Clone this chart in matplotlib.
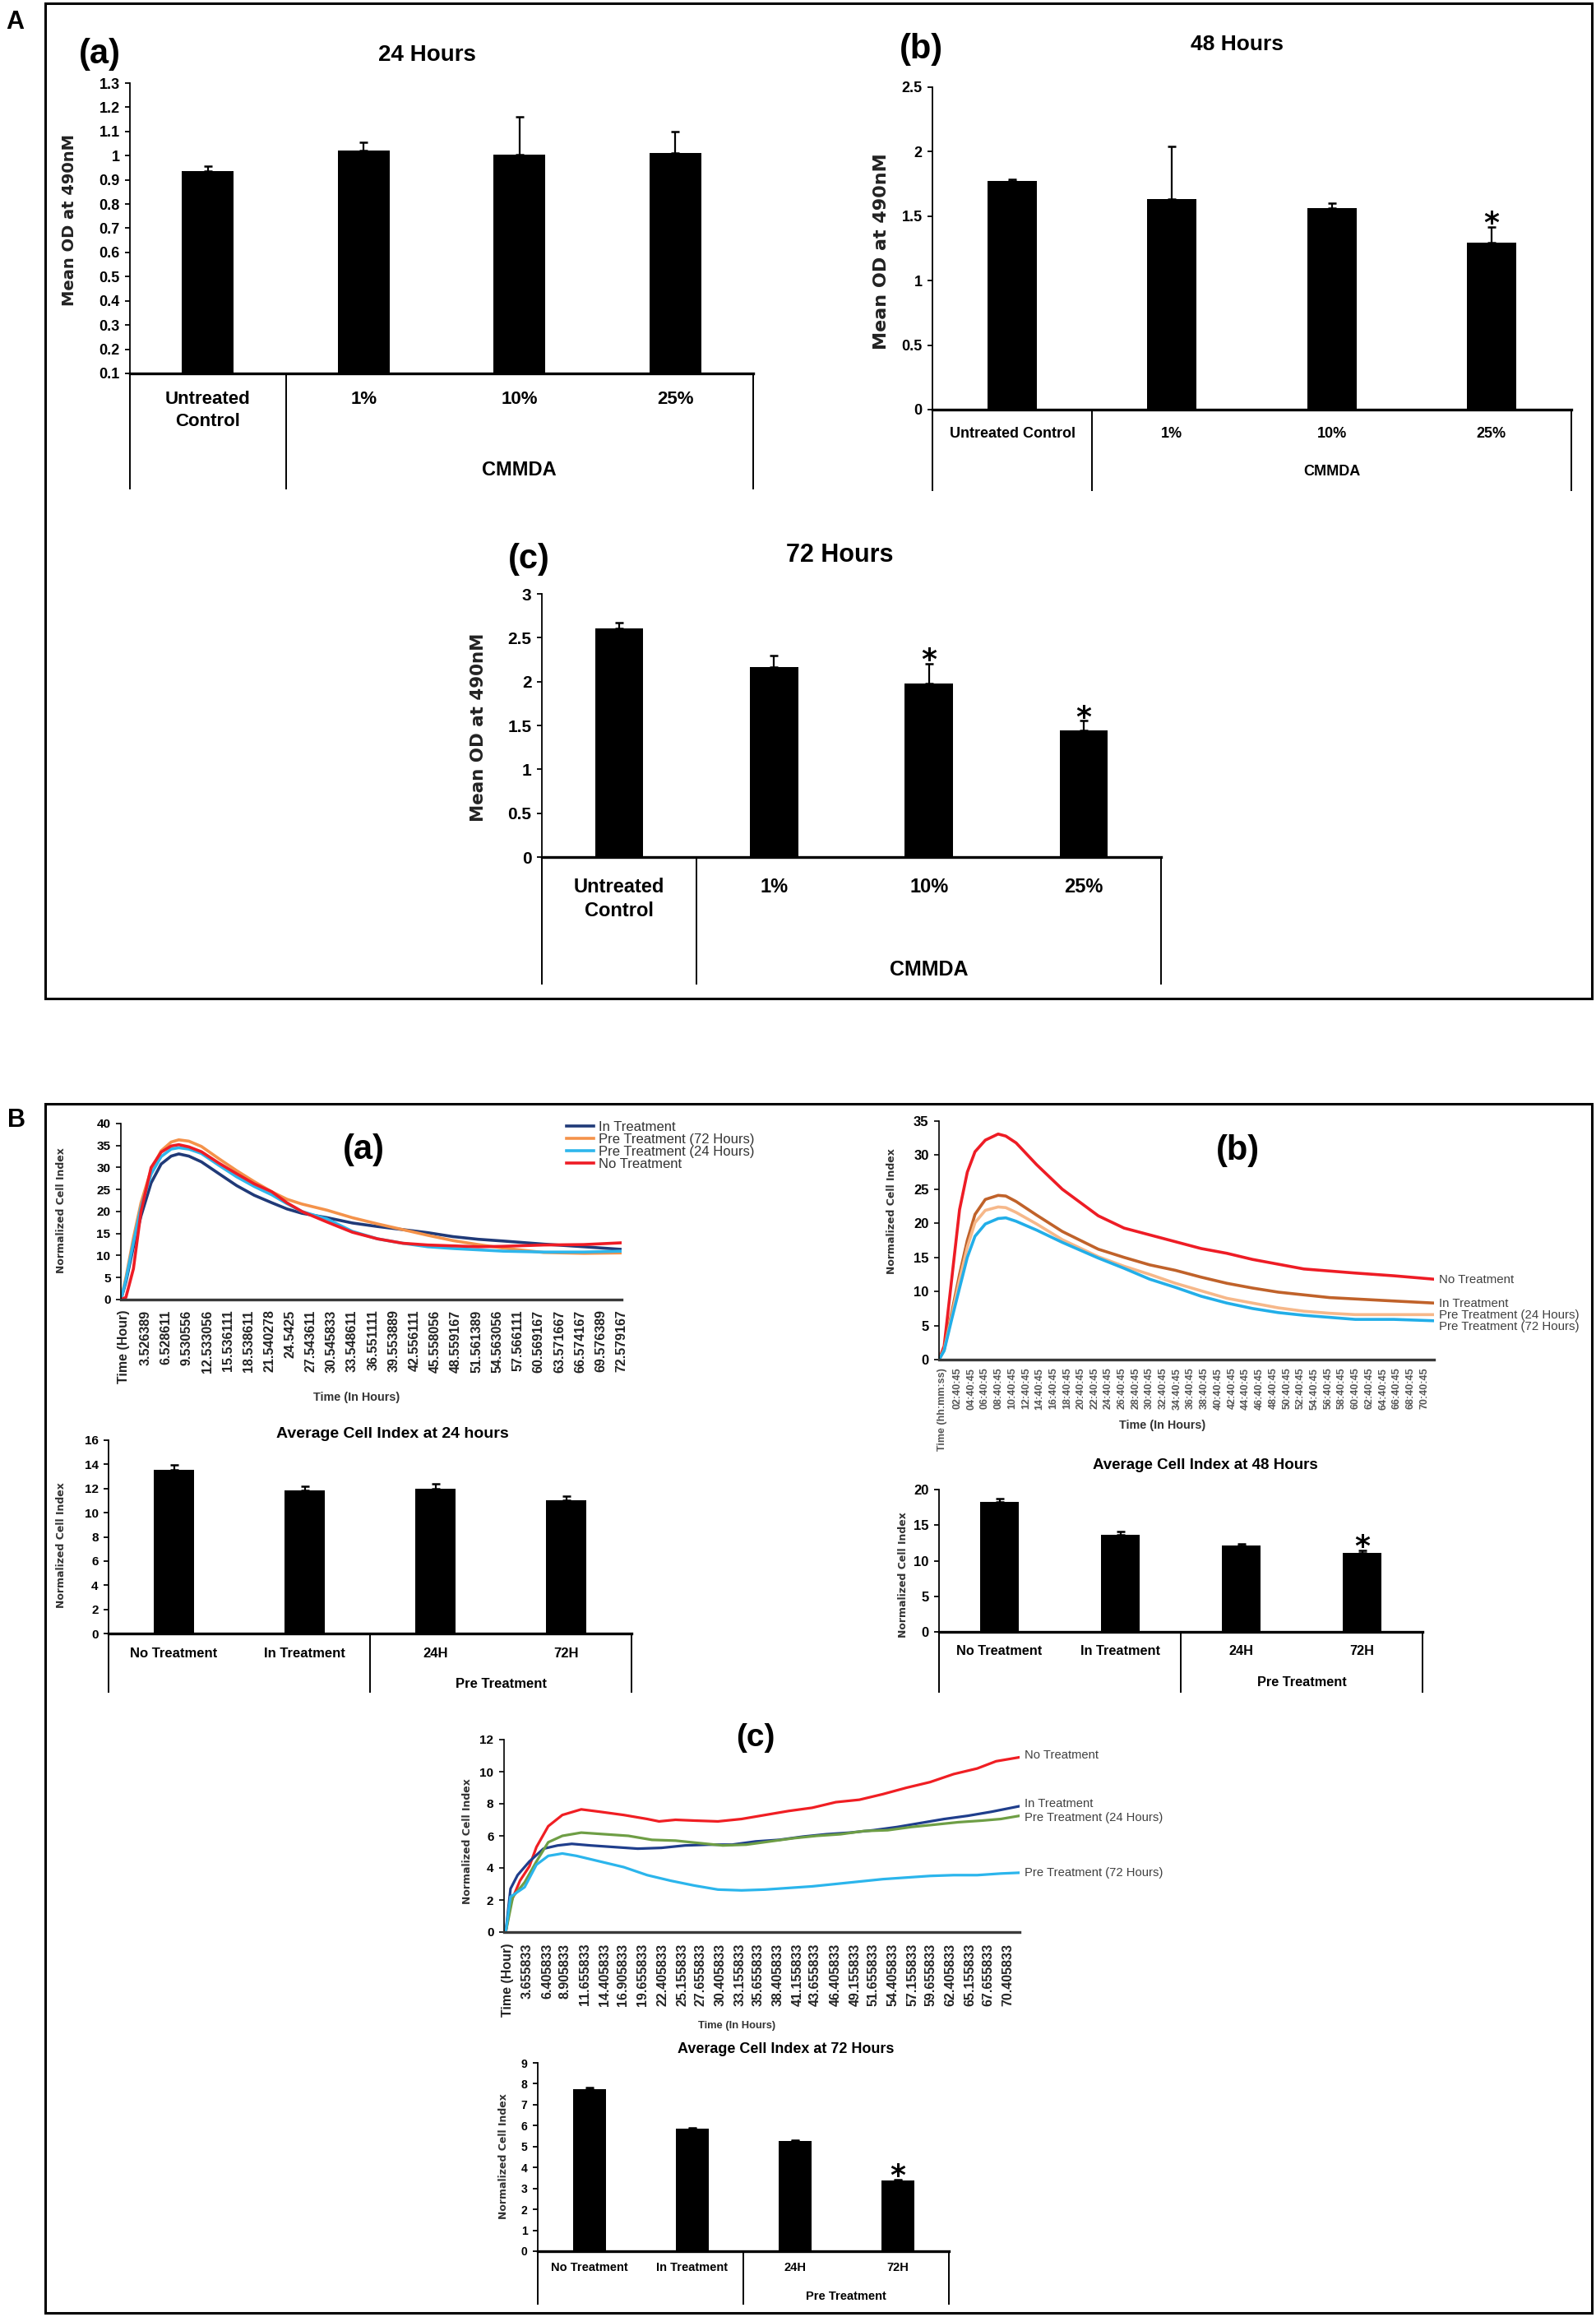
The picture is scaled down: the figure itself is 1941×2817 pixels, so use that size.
import matplotlib
matplotlib.use("Agg")
import matplotlib.pyplot as plt
from matplotlib.patches import Rectangle
from matplotlib.ticker import FuncFormatter
import numpy as np

W, H = 1941, 2817
plt.rcParams['font.family'] = ['Liberation Sans', 'DejaVu Sans']
plt.rcParams['font.weight'] = 'bold'

# ---------------- panel A : MTS bar charts ----------------
a_cats_two = ['Untreated\nControl', '1%', '10%', '25%']
a_cats_one = ['Untreated Control', '1%', '10%', '25%']
a_group = 'CMMDA'

a24_vals = [0.935, 1.02, 1.005, 1.01]
a24_errs = [0.02, 0.035, 0.155, 0.088]
a48_vals = [1.77, 1.632, 1.561, 1.292]
a48_errs = [0.017, 0.41, 0.041, 0.127]
a72_vals = [2.61, 2.167, 1.974, 1.444]
a72_errs = [0.06, 0.13, 0.233, 0.11]

# ---------------- panel B : average cell index bars ----------------
b_cats = ['No Treatment', 'In Treatment', '24H', '72H']
b_group = 'Pre Treatment'
b24_vals = [13.57, 11.82, 11.98, 11.03]
b24_errs = [0.4, 0.39, 0.41, 0.32]
b48_vals = [18.3, 13.68, 12.1, 11.1]
b48_errs = [0.45, 0.39, 0.3, 0.35]
b72_vals = [7.75, 5.85, 5.25, 3.39]
b72_errs = [0.06, 0.05, 0.04, 0.04]

# ---------------- panel B(a) : cell index curves ----------------
ba_t = [0, 0.73, 1.82, 2.92, 4.38, 5.84, 7.29, 8.39, 9.85, 11.67, 14.22, 16.78, 19.33,
        21.88, 24.07, 26.26, 29.91, 33.55, 37.2, 40.85, 44.49, 48.14, 51.79, 55.43,
        61.27, 67.1, 72.58]
ba_in = [0, 4, 12, 19, 26.5, 30.8, 32.6, 33.1, 32.6, 31.3, 28.6, 25.9, 23.7, 22.0, 20.6,
         19.6, 18.6, 17.4, 16.6, 15.9, 15.2, 14.3, 13.7, 13.3, 12.6, 12.0, 11.4]
ba_pre72 = [0, 5, 14, 22, 29.5, 33.8, 35.8, 36.3, 36.0, 34.8, 32.0, 29.3, 26.8, 24.5, 22.8,
            21.7, 20.3, 18.6, 17.2, 15.9, 14.6, 13.4, 12.5, 11.7, 10.7, 10.5, 10.6]
ba_pre24 = [0, 4.5, 13, 21, 28.5, 32.5, 34.2, 34.5, 34.2, 33.2, 30.5, 27.9, 25.7, 23.8, 21.8,
            20.0, 18.3, 15.5, 13.8, 12.8, 12.0, 11.6, 11.3, 11.0, 10.8, 10.8, 11.0]
ba_none = [0, 0.5, 7, 20, 30, 33.5, 34.9, 35.2, 34.7, 33.6, 31.0, 28.6, 26.3, 24.5, 22.0,
           20.0, 17.6, 15.3, 13.8, 12.8, 12.4, 12.2, 12.0, 12.1, 12.4, 12.5, 12.9]
ba_ticks = ['Time (Hour)', '3.526389', '6.528611', '9.530556', '12.533056', '15.536111',
            '18.538611', '21.540278', '24.5425', '27.543611', '30.545833', '33.548611',
            '36.551111', '39.553889', '42.556111', '45.558056', '48.559167', '51.561389',
            '54.563056', '57.566111', '60.569167', '63.571667', '66.574167', '69.576389',
            '72.579167']

# ---------------- panel B(b) ----------------
bb_t = [0, 0.75, 1.87, 2.99, 4.12, 5.24, 6.74, 8.61, 9.73, 11.23, 14.22, 17.96, 23.2,
        26.95, 30.69, 34.43, 38.17, 41.92, 45.66, 49.4, 53.14, 56.89, 60.63, 66.24, 72.08]
bb_none = [0, 2, 12, 22, 27.5, 30.5, 32.2, 33.1, 32.8, 31.8, 28.6, 25.0, 21.1, 19.3, 18.3,
           17.3, 16.3, 15.6, 14.7, 14.0, 13.3, 13.0, 12.7, 12.3, 11.8]
bb_in = [0, 1.5, 7, 12.5, 17.5, 21.3, 23.5, 24.1, 24.0, 23.2, 21.2, 18.8, 16.2, 15.0, 13.9,
         13.1, 12.1, 11.2, 10.5, 9.9, 9.5, 9.1, 8.9, 8.6, 8.3]
bb_pre24 = [0, 1.4, 6.5, 11.7, 16.5, 20.1, 21.9, 22.4, 22.3, 21.6, 19.9, 17.6, 15.1, 13.7,
            12.5, 11.2, 10.1, 9.0, 8.3, 7.6, 7.1, 6.8, 6.6, 6.6, 6.6]
bb_pre72 = [0, 1.3, 6, 10.5, 15, 18.1, 19.9, 20.7, 20.8, 20.3, 19.0, 17.2, 14.9, 13.4, 11.8,
            10.6, 9.3, 8.3, 7.5, 6.9, 6.5, 6.2, 5.9, 5.9, 5.7]
bb_ticks = ['Time (hh:mm:ss)', '02:40:45', '04:40:45', '06:40:45', '08:40:45', '10:40:45',
            '12:40:45', '14:40:45', '16:40:45', '18:40:45', '20:40:45', '22:40:45',
            '24:40:45', '26:40:45', '28:40:45', '30:40:45', '32:40:45', '34:40:45',
            '36:40:45', '38:40:45', '40:40:45', '42:40:45', '44:40:45', '46:40:45',
            '48:40:45', '50:40:45', '52:40:45', '54:40:45', '56:40:45', '58:40:45',
            '60:40:45', '62:40:45', '64:40:45', '66:40:45', '68:40:45', '70:40:45']
bb_names = ['No Treatment', 'In Treatment', 'Pre Treatment (24 Hours)', 'Pre Treatment (72 Hours)']
bb_name_y = [11.7, 8.2, 6.5, 4.8]

# ---------------- panel B(c) ----------------
bc_none_t = [0.64, 1.30, 2.61, 3.92, 4.9, 6.54, 8.5, 11.12, 13.74, 17.02, 20.29, 21.93, 24.22,
             26.84, 30.11, 33.39, 36.66, 39.94, 43.21, 46.49, 49.76, 53.03, 56.31, 59.58,
             62.86, 66.13, 68.75, 72.02]
bc_none = [0, 1.8, 3.2, 4.1, 5.3, 6.6, 7.3, 7.65, 7.5, 7.3, 7.05, 6.9, 7.0, 6.95, 6.9, 7.05,
           7.3, 7.55, 7.75, 8.1, 8.25, 8.6, 9.0, 9.35, 9.85, 10.2, 10.65, 10.9]
bc_in_t = [0.64, 1.30, 2.28, 3.92, 5.88, 7.85, 9.81, 12.43, 15.71, 18.98, 22.25, 25.53, 28.8,
           32.08, 35.35, 38.63, 41.9, 45.18, 48.45, 51.72, 55.0, 58.27, 61.55, 64.82, 68.1,
           72.02]
bc_in = [0, 2.7, 3.55, 4.4, 5.2, 5.4, 5.5, 5.4, 5.3, 5.2, 5.25, 5.4, 5.45, 5.45, 5.65, 5.75,
         5.95, 6.1, 6.2, 6.35, 6.55, 6.8, 7.05, 7.25, 7.5, 7.85]
bc_pre24_t = [0.64, 1.63, 3.26, 4.9, 6.54, 8.5, 11.12, 14.4, 17.67, 20.94, 24.22, 27.49, 30.77,
              34.04, 37.32, 40.59, 43.87, 47.14, 50.41, 53.69, 56.96, 60.24, 63.51, 66.79,
              69.41, 72.02]
bc_pre24 = [0, 2.2, 3.1, 4.4, 5.6, 6.0, 6.2, 6.1, 6.0, 5.75, 5.7, 5.55, 5.4, 5.45, 5.65, 5.85,
            6.0, 6.1, 6.3, 6.35, 6.55, 6.7, 6.85, 6.95, 7.05, 7.25]
bc_pre72_t = [0.64, 1.30, 3.26, 4.9, 6.54, 8.5, 10.47, 13.74, 17.02, 20.29, 23.56, 26.84,
              30.11, 33.39, 36.66, 39.94, 43.21, 46.49, 49.76, 53.03, 56.31, 59.58, 62.86,
              66.13, 69.41, 72.02]
bc_pre72 = [0, 2.2, 2.8, 4.2, 4.75, 4.9, 4.75, 4.4, 4.05, 3.55, 3.2, 2.9, 2.65, 2.6, 2.65,
            2.75, 2.85, 3.0, 3.15, 3.3, 3.4, 3.5, 3.55, 3.55, 3.65, 3.7]
bc_ticks = ['Time (Hour)', '3.655833', '6.405833', '8.905833', '11.655833', '14.405833',
            '16.905833', '19.655833', '22.405833', '25.155833', '27.655833', '30.405833',
            '33.155833', '35.655833', '38.405833', '41.155833', '43.655833', '46.405833',
            '49.155833', '51.655833', '54.405833', '57.155833', '59.655833', '62.405833',
            '65.155833', '67.655833', '70.405833']
bc_names = ['No Treatment', 'In Treatment', 'Pre Treatment (24 Hours)', 'Pre Treatment (72 Hours)']
bc_name_y = [11.0, 8.0, 7.13, 3.7]

fig = plt.figure(figsize=(W / 100, H / 100), dpi=100)


def px_rect(x0, y0, x1, y1):
    return [x0 / W, 1 - y1 / H, (x1 - x0) / W, (y1 - y0) / H]


def ftext(x, y, s, **kw):
    kw.setdefault('ha', 'center')
    kw.setdefault('va', 'center')
    fig.text(x / W, 1 - y / H, s, **kw)


def bar_panel(box, vals, errs, ylim, yticks, width, tick_fs, stars=()):
    ax = fig.add_axes(px_rect(*box))
    x = np.arange(len(vals))
    ax.bar(x, vals, width=width, color='black', zorder=2)
    ax.errorbar(x, vals, yerr=[np.zeros(len(errs)), errs], fmt='none', ecolor='black',
                elinewidth=1.6, capsize=3.5, capthick=1.8, zorder=3)
    ax.set_xlim(-0.5, len(vals) - 0.5)
    ax.set_ylim(*ylim)
    ax.set_yticks(yticks)
    ax.yaxis.set_major_formatter(FuncFormatter(lambda v, _: f'{v:g}'))
    ax.set_xticks([])
    ax.spines[['top', 'right']].set_visible(False)
    ax.spines['bottom'].set_linewidth(2.4)
    ax.spines['left'].set_linewidth(1.3)
    ax.tick_params(axis='y', direction='out', length=4, width=1.3, labelsize=tick_fs, pad=5)
    # significance stars just above the error bar
    star_fs = 26
    off = (13 - 0.54 * star_fs * 100 / 72) * 0.72
    for i in stars:
        ax.annotate('*', xy=(i, vals[i] + errs[i]), xytext=(0, off), textcoords='offset points',
                    ha='center', va='baseline', fontsize=star_fs, family='DejaVu Sans',
                    fontweight='bold', annotation_clip=False)
    return ax


def category_axis(ax, box, cats, split, group, cat_off, group_off, bottom, cat_fs, group_fs):
    h = box[3] - box[1]
    tr = ax.get_xaxis_transform()
    n = len(cats)
    for xv in (-0.5, split, n - 0.5):
        ax.plot([xv, xv], [0, -bottom / h], transform=tr, color='black', lw=1.4,
                clip_on=False, solid_capstyle='butt')
    for i, c in enumerate(cats):
        ax.text(i, -cat_off / h, c, transform=tr, ha='center', va='top', fontsize=cat_fs,
                linespacing=1.35)
    ax.text((split + n - 0.5) / 2, -group_off / h, group, transform=tr, ha='center',
            va='center', fontsize=group_fs)


def line_panel(box, series, xlim, ylim, ystep, tick_pos, tick_labels, tick_fs, ytick_fs,
               tick_color, pad, lw):
    ax = fig.add_axes(px_rect(*box))
    lines = []
    for t, y, c, lab in series:
        ln, = ax.plot(t, y, color=c, lw=lw, label=lab, solid_joinstyle='round')
        lines.append(ln)
    ax.set_xlim(*xlim)
    ax.set_ylim(*ylim)
    ax.set_yticks(np.arange(ylim[0], ylim[1] + 0.01, ystep))
    ax.yaxis.set_major_formatter(FuncFormatter(lambda v, _: f'{v:g}'))
    ax.set_xticks(tick_pos)
    ax.set_xticklabels(tick_labels, rotation=90, fontsize=tick_fs, color=tick_color)
    ax.spines[['top', 'right']].set_visible(False)
    ax.spines['bottom'].set_linewidth(2.4)
    ax.spines['bottom'].set_color('#3a3a3a')
    ax.spines['left'].set_linewidth(1.2)
    ax.tick_params(axis='x', length=0, pad=pad)
    ax.tick_params(axis='y', direction='out', length=4, width=1.2, labelsize=ytick_fs, pad=5)
    return ax, lines


def clock_hours(s):
    h, m, sec = s.split(':')
    return int(h) + int(m) / 60 + int(sec) / 3600


# ---------------- outer boxes and panel letters ----------------
for y0, y1 in ((4, 1214), (1342, 2812)):
    fig.add_artist(Rectangle((55 / W, 1 - y1 / H), (1936 - 55) / W, (y1 - y0) / H,
                             transform=fig.transFigure, fill=False, lw=2.2, ec='black'))
ftext(18, 27, 'A', fontsize=22)
ftext(20, 1362, 'B', fontsize=22)

# ---------------- A(a) ----------------
box = (158, 101, 916, 454)
ax = bar_panel(box, a24_vals, a24_errs, (0.1, 1.3), np.arange(0.1, 1.31, 0.1), 0.33, 13)
category_axis(ax, box, a_cats_two, 0.5, a_group, 21, 117, 141, 16, 17)
ftext(121, 66, '(a)', fontsize=30)
ftext(519, 67, '24 Hours', fontsize=20)
ftext(84, 267, 'Mean OD at 490nM', rotation=90, fontsize=14, family='DejaVu Sans',
      color='#222222')

# ---------------- A(b) ----------------
box = (1134, 106, 1911, 498)
ax = bar_panel(box, a48_vals, a48_errs, (0, 2.5), np.arange(0, 2.51, 0.5), 0.31, 13, stars=[3])
category_axis(ax, box, a_cats_one, 0.5, a_group, 21, 76, 99, 13, 13)
ftext(1120, 60, '(b)', fontsize=30)
ftext(1505, 54, '48 Hours', fontsize=19)
ftext(1072, 306, 'Mean OD at 490nM', rotation=90, fontsize=16, family='DejaVu Sans',
      color='#222222')

# ---------------- A(c) ----------------
box = (659, 722, 1412, 1042)
ax = bar_panel(box, a72_vals, a72_errs, (0, 3), np.arange(0, 3.01, 0.5), 0.31, 15,
               stars=[2, 3])
category_axis(ax, box, a_cats_two, 0.5, a_group, 25, 137, 155, 17, 18)
ftext(643, 680, '(c)', fontsize=30)
ftext(1021, 675, '72 Hours', fontsize=22)
ftext(582, 884, 'Mean OD at 490nM', rotation=90, fontsize=15.4, family='DejaVu Sans',
      color='#222222')

# ---------------- B(a) line chart ----------------
box = (147, 1366, 756, 1580)
ba_pos = [0.45] + [float(s) for s in ba_ticks[1:]]
ax, lines = line_panel(box, [(ba_t, ba_in, '#203a78', 'In Treatment'),
                             (ba_t, ba_pre72, '#f4924a', 'Pre Treatment (72 Hours)'),
                             (ba_t, ba_pre24, '#2eb6ec', 'Pre Treatment (24 Hours)'),
                             (ba_t, ba_none, '#ee1c25', 'No Treatment')],
                       (0, 72.58), (0, 40), 5, ba_pos, ba_ticks, 11.5, 11, '#222222', 9, 2.6)
leg = fig.legend(handles=lines, loc='upper left', bbox_to_anchor=(689 / W, 1 - 1363 / H),
                 frameon=False, labelspacing=0.0, handlelength=2.0,
                 handletextpad=0.35, borderpad=0, borderaxespad=0,
                 prop={'weight': 'normal', 'size': 12})
for txt in leg.get_texts():
    txt.set_color('#333333')
ftext(442, 1398, '(a)', fontsize=30)
ftext(434, 1699, 'Time (In Hours)', fontsize=10.4, color='#333333')
ftext(75, 1472, 'Normalized Cell Index', rotation=90, fontsize=9, family='DejaVu Sans',
      color='#333333')

# ---------------- B(a) bars ----------------
box = (132, 1751, 768, 1986)
ax = bar_panel(box, b24_vals, b24_errs, (0, 16), np.arange(0, 16.1, 2), 0.31, 11)
category_axis(ax, box, b_cats, 1.5, b_group, 17, 61, 72, 12, 12)
ftext(477, 1743, 'Average Cell Index at 24 hours', fontsize=14)
ftext(75, 1879, 'Normalized Cell Index', rotation=90, fontsize=9, family='DejaVu Sans',
      color='#333333')

# ---------------- B(b) line chart ----------------
box = (1142, 1363, 1744, 1653)
bb_pos = [0.5] + [clock_hours(s) for s in bb_ticks[1:]]
bb_cols = ['#ee1c25', '#c0622a', '#f6b88a', '#22aee8']
ax, lines = line_panel(box, [(bb_t, bb_none, bb_cols[0], bb_names[0]),
                             (bb_t, bb_in, bb_cols[1], bb_names[1]),
                             (bb_t, bb_pre24, bb_cols[2], bb_names[2]),
                             (bb_t, bb_pre72, bb_cols[3], bb_names[3])],
                       (0, 72.1), (0, 35), 5, bb_pos, bb_ticks, 9, 12, '#555555', 7, 2.6)
for name, yv in zip(bb_names, bb_name_y):
    ax.annotate(name, xy=(72.1, yv), xytext=(4, 0), textcoords='offset points', ha='left',
                va='center', fontsize=10.8, fontweight='normal', color='#404040',
                annotation_clip=False)
ftext(1505, 1399, '(b)', fontsize=30)
ftext(1414, 1733, 'Time (In Hours)', fontsize=10.4, color='#333333')
ftext(1085, 1473, 'Normalized Cell Index', rotation=90, fontsize=9, family='DejaVu Sans',
      color='#333333')

# ---------------- B(b) bars ----------------
box = (1142, 1811, 1730, 1984)
ax = bar_panel(box, b48_vals, b48_errs, (0, 20), np.arange(0, 20.1, 5), 0.32, 12, stars=[3])
category_axis(ax, box, b_cats, 1.5, b_group, 16, 62, 74, 11.7, 11.7)
ftext(1466, 1782, 'Average Cell Index at 48 Hours', fontsize=13.5)
ftext(1099, 1915, 'Normalized Cell Index', rotation=90, fontsize=9, family='DejaVu Sans',
      color='#333333')

# ---------------- B(c) line chart ----------------
box = (613, 2115, 1240, 2349)
bc_pos = [0.97] + [float(s) for s in bc_ticks[1:]]
bc_cols = ['#f01e23', '#1f3e8c', '#6e9e45', '#2bb5ec']
ax, lines = line_panel(box, [(bc_none_t, bc_none, bc_cols[0], bc_names[0]),
                             (bc_in_t, bc_in, bc_cols[1], bc_names[1]),
                             (bc_pre24_t, bc_pre24, bc_cols[2], bc_names[2]),
                             (bc_pre72_t, bc_pre72, bc_cols[3], bc_names[3])],
                       (0.4, 72.02), (0, 12), 2, bc_pos, bc_ticks, 11.5, 11, '#222222', 10, 2.3)
for name, yv in zip(bc_names, bc_name_y):
    ax.annotate(name, xy=(72.02, yv), xytext=(4, 0), textcoords='offset points', ha='left',
                va='center', fontsize=10.6, fontweight='normal', color='#404040',
                annotation_clip=False)
ftext(919, 2113, '(c)', fontsize=28)
ftext(896, 2463, 'Time (In Hours)', fontsize=9.3, color='#333333')
ftext(569, 2239, 'Normalized Cell Index', rotation=90, fontsize=9, family='DejaVu Sans',
      color='#333333')

# ---------------- B(c) bars ----------------
box = (654, 2508, 1154, 2737)
ax = bar_panel(box, b72_vals, b72_errs, (0, 9), np.arange(0, 9.1, 1), 0.32, 10, stars=[3])
category_axis(ax, box, b_cats, 1.5, b_group, 13, 55, 65, 10.5, 10.5)
ftext(956, 2492, 'Average Cell Index at 72 Hours', fontsize=13)
ftext(612, 2622, 'Normalized Cell Index', rotation=90, fontsize=9, family='DejaVu Sans',
      color='#333333')

fig.savefig('out.png', dpi=100, facecolor='white')
